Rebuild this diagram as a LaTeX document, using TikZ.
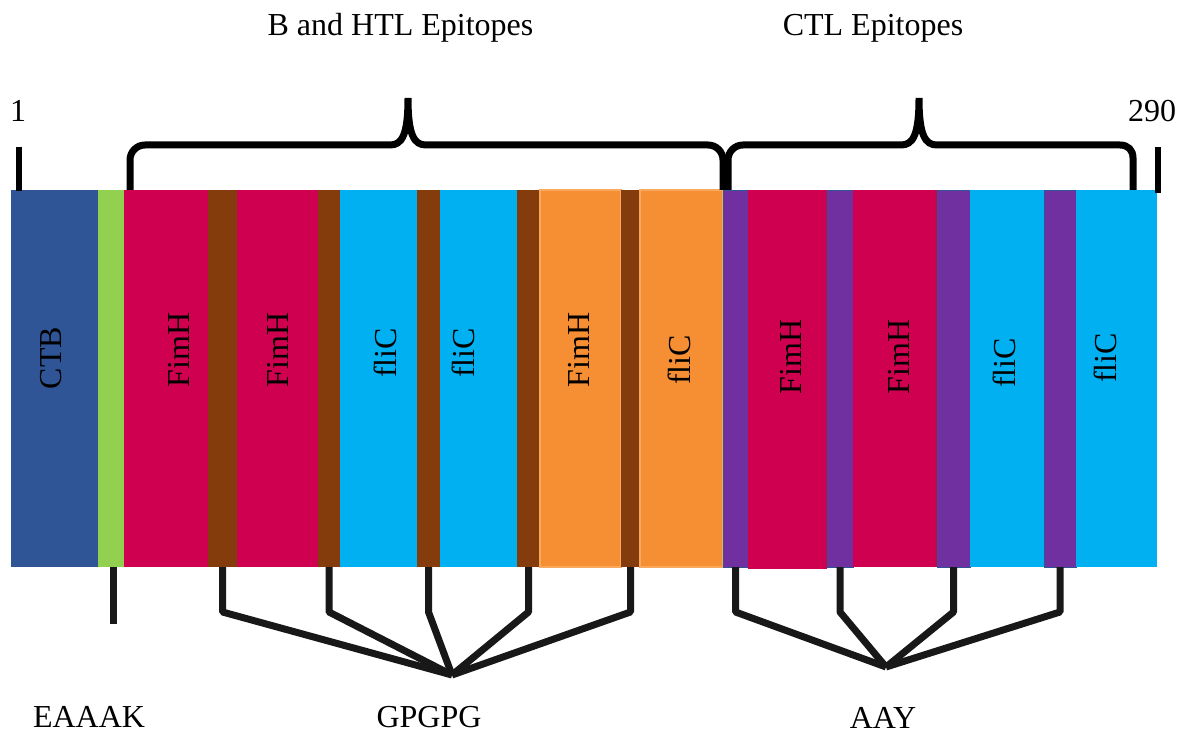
\documentclass[tikz,border=0pt]{standalone}
\usepackage{fontspec}
\setmainfont{Liberation Serif}
\definecolor{ctbc}{HTML}{2F5597}
\definecolor{grnc}{HTML}{92D050}
\definecolor{redc}{HTML}{D00050}
\definecolor{brnc}{HTML}{843C0C}
\definecolor{cyac}{HTML}{00B0F0}
\definecolor{orgc}{HTML}{F68E33}
\definecolor{orgl}{HTML}{F9A95E}
\definecolor{purc}{HTML}{7030A0}
\definecolor{conc}{HTML}{181818}
\tikzset{
  seg/.style={rectangle, inner sep=0pt, outer sep=0pt, minimum height=377pt, anchor=north west},
  lab/.style={inner sep=0pt, font=\fontsize{32}{37}\selectfont, text=black},
  vlab/.style={lab, rotate=90},
  brk/.style={line width=7pt, draw=black, line cap=butt},
  conn/.style={line width=7pt, draw=conc, line join=bevel},
  tickline/.style={line width=6.5pt, draw=black}
}
\begin{document}
\begin{tikzpicture}[x=1pt,y=-1pt]
\useasboundingbox (0,0) rectangle (1186,735);
% segments
\node[seg, fill=ctbc, minimum width=87.5pt] (ctb) at (10.5,190) {};
\node[seg, fill=grnc, minimum width=26pt] (grn) at (98,190) {};
\node[seg, fill=redc, minimum width=84pt] (r1) at (124,190) {};
\node[seg, fill=brnc, minimum width=29pt] (b1) at (208,190) {};
\node[seg, fill=redc, minimum width=81pt] (r2) at (237,190) {};
\node[seg, fill=brnc, minimum width=22pt] (b2) at (318,190) {};
\node[seg, fill=cyac, minimum width=77pt] (c1) at (340,190) {};
\node[seg, fill=brnc, minimum width=23pt] (b3) at (417,190) {};
\node[seg, fill=cyac, minimum width=77pt] (c2) at (440,190) {};
\node[seg, fill=brnc, minimum width=23pt] (b4) at (517,190) {};
\node[seg, fill=orgc, draw=orgl, line width=1.2pt, minimum width=81pt] (o1) at (540,190) {};
\node[seg, fill=brnc, minimum width=19pt] (b5) at (621,190) {};
\node[seg, fill=orgc, draw=orgl, line width=1.2pt, minimum width=83pt] (o2) at (640,190) {};
\node[seg, fill=purc, draw=ctbc, line width=0.8pt, minimum width=25pt] (p1) at (723,190) {};
\node[seg, fill=redc, minimum width=79pt, minimum height=379pt] (r3) at (748,190) {};
\node[seg, fill=purc, draw=ctbc, line width=0.8pt, minimum width=26pt] (p2) at (827,190) {};
\node[seg, fill=redc, minimum width=84pt] (r4) at (853,190) {};
\node[seg, fill=purc, draw=ctbc, line width=0.8pt, minimum width=33pt] (p3) at (937,190) {};
\node[seg, fill=cyac, minimum width=74pt] (c3) at (970,190) {};
\node[seg, fill=purc, draw=ctbc, line width=0.8pt, minimum width=32pt] (p4) at (1044,190) {};
\node[seg, fill=cyac, minimum width=81pt] (c4) at (1076,190) {};
% segment labels
\node[vlab] (lctb) at (51.5,358) {CTB};
\node[vlab] (lr1) at (178.5,350) {FimH};
\node[vlab] (lr2) at (277.5,350) {FimH};
\node[vlab] (lc1) at (385,353) {fliC};
\node[vlab] (lc2) at (463.5,353) {fliC};
\node[vlab] (lo1) at (578.5,350) {FimH};
\node[vlab] (lo2) at (679.5,360) {fliC};
\node[vlab] (lr3) at (791,357) {FimH};
\node[vlab] (lr4) at (899,357) {FimH};
\node[vlab] (lc3) at (1004,363) {fliC};
\node[vlab] (lc4) at (1105,358) {fliC};
% titles and numbers
\node[lab, anchor=base] (t1) at (400.5,36) {B and HTL Epitopes};
\node[lab, anchor=base] (t2) at (873,36) {CTL Epitopes};
\node[lab, anchor=base] (n1) at (18,122) {1};
\node[lab, anchor=base] (n290) at (1152,122) {290};
% ticks
\draw[tickline] (19,147) -- (19,191);
\draw[tickline] (1158,147) -- (1158,193);
% brackets
\draw[brk] (130,190) -- (130,160) .. controls (130,151.7) and (136.7,145) .. (145,145) -- (390,145)
  .. controls (402,145) and (408,135) .. (408,98) .. controls (408,135) and (414,145) .. (426,145)
  -- (708,145) .. controls (716.3,145) and (723,151.7) .. (723,160) -- (723,190);
\draw[brk] (728,190) -- (728,160) .. controls (728,151.7) and (734.7,145) .. (743,145) -- (901,145)
  .. controls (913,145) and (919,135) .. (919,98) .. controls (919,135) and (925,145) .. (937,145)
  -- (1120,145) .. controls (1128,145) and (1133,150) .. (1133,158) -- (1133,190);
% linker labels
\node[lab, anchor=base] (eaaak) at (89,727) {EAAAK};
\node[lab, anchor=base] (gpgpg) at (429,727) {GPGPG};
\node[lab, anchor=base] (aayl) at (883,728) {AAY};
% connectors
\coordinate (knee) at (0,612);
\coordinate (gp) at (452,675);
\coordinate (ay) at (886,667);
\coordinate (etop) at (113,567);
\coordinate (eend) at (113,624);
\draw[conn] (etop) -- (eend);
\draw[conn] (b1.south) -- (b1.south |- knee) -- (gp);
\draw[conn] (b2.south) -- (b2.south |- knee) -- (gp);
\draw[conn] (b3.south) -- (b3.south |- knee) -- (gp);
\draw[conn] (b4.south) -- (b4.south |- knee) -- (gp);
\draw[conn] (b5.south) -- (b5.south |- knee) -- (gp);
\draw[conn] (p1.south) -- (p1.south |- knee) -- (ay);
\draw[conn] (p2.south) -- (p2.south |- knee) -- (ay);
\draw[conn] (p3.south) -- (p3.south |- knee) -- (ay);
\draw[conn] (p4.south) -- (p4.south |- knee) -- (ay);
\end{tikzpicture}
\end{document}
